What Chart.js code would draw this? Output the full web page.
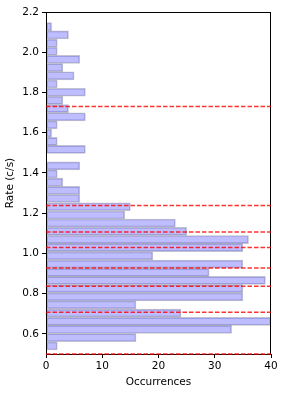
<!DOCTYPE html>
<html>
<head>
<meta charset="utf-8">
<script src="https://cdn.jsdelivr.net/npm/chart.js@4/dist/chart.umd.min.js"></script>
<style>
	html, body { margin: 0; padding: 0; background: #fff; }
	canvas { display: block; }
</style>
</head>
<body>
<canvas id="rates" width="284" height="396"></canvas>
<script>
// bin centres of the rate histogram (c/s), bottom to top
var binCenters = [
	0.540, 0.581, 0.622, 0.662, 0.703, 0.744, 0.784, 0.825, 0.866, 0.906,
	0.947, 0.988, 1.029, 1.069, 1.110, 1.151, 1.191, 1.232, 1.273, 1.313,
	1.354, 1.395, 1.435, 1.476, 1.517, 1.557, 1.598, 1.639, 1.679, 1.720,
	1.761, 1.801, 1.842, 1.883, 1.923, 1.964, 2.005, 2.045, 2.086, 2.127
];
var occurrences = [
	2, 16, 33, 40, 24, 16, 35, 35, 39, 29,
	35, 19, 35, 36, 25, 23, 14, 15, 6, 6,
	3, 2, 6, 0, 7, 2, 1, 2, 7, 4,
	3, 7, 2, 5, 3, 6, 2, 2, 4, 1
];
// red dashed marker levels
var markLevels = [1.730, 1.238, 1.107, 1.029, 0.928, 0.837, 0.708, 0.5];
var yTicks = [0.6, 0.8, 1.0, 1.2, 1.4, 1.6, 1.8, 2.0, 2.2];
var xTicks = [0, 10, 20, 30, 40];

function CreateRateChart() {
	var points = [];
	for (var i = 0; i < binCenters.length; i++) {
		points.push({ x: occurrences[i], y: binCenters[i] });
	}

	var framePlugin = {
		id: 'frame',
		afterDatasetsDraw: function (chart) {
			var ctx = chart.ctx;
			var a = chart.chartArea;
			var ys = chart.scales.y;
			ctx.save();
			ctx.strokeStyle = '#000';
			ctx.lineWidth = 1;
			ctx.strokeRect(Math.round(a.left) + 0.5, Math.round(a.top) + 0.5,
				Math.round(a.right - a.left) - 1, Math.round(a.bottom - a.top));
			ctx.strokeStyle = 'rgba(255,0,0,0.8)';
			ctx.lineWidth = 1.5;
			ctx.setLineDash([4.5, 2]);
			for (var i = 0; i < markLevels.length; i++) {
				var py = ys.getPixelForValue(markLevels[i]);
				ctx.beginPath();
				ctx.moveTo(a.left, py);
				ctx.lineTo(a.right, py);
				ctx.stroke();
			}
			ctx.restore();
		}
	};

	Chart.defaults.font.family = 'DejaVu Sans';
	Chart.defaults.font.size = 10.5;
	Chart.defaults.color = '#000';

	var ctx = document.getElementById('rates').getContext('2d');
	window.RateChart = new Chart(ctx, {
		type: 'bar',
		data: {
			datasets: [{
				label: 'Rate',
				data: points,
				backgroundColor: 'rgba(0,0,255,0.26)',
				borderColor: 'rgba(0,0,60,0.24)',
				borderWidth: 1,
				borderSkipped: false,
				barPercentage: 1,
				categoryPercentage: 1
			}]
		},
		options: {
			indexAxis: 'y',
			responsive: false,
			animation: false,
			layout: { padding: { top: 12, right: 13, left: 0, bottom: 0 } },
			plugins: {
				legend: { display: false },
				tooltip: { enabled: false }
			},
			scales: {
				x: {
					type: 'linear',
					min: 0,
					max: 40,
					afterBuildTicks: function (s) { s.ticks = xTicks.map(function (v) { return { value: v }; }); },
					afterFit: function (s) { s.height = 42; },
					ticks: { padding: 2 },
					grid: { drawOnChartArea: false, tickLength: 4, color: '#000' },
					border: { color: '#000' },
					title: { display: true, text: 'Occurrences', padding: { top: 0, bottom: 7 } }
				},
				y: {
					type: 'linear',
					min: 0.5,
					max: 2.2,
					offset: false,
					afterBuildTicks: function (s) { s.ticks = yTicks.map(function (v) { return { value: v }; }); },
					afterFit: function (s) { s.width = 46; },
					ticks: {
						padding: 3,
						callback: function (v) { return v.toFixed(1); }
					},
					grid: { offset: false, drawOnChartArea: false, tickLength: 4, color: '#000' },
					border: { color: '#000' },
					title: { display: true, text: 'Rate (c/s)', padding: { top: 4, bottom: 0 } }
				}
			}
		},
		plugins: [framePlugin]
	});
}

CreateRateChart();
</script>
</body>
</html>
